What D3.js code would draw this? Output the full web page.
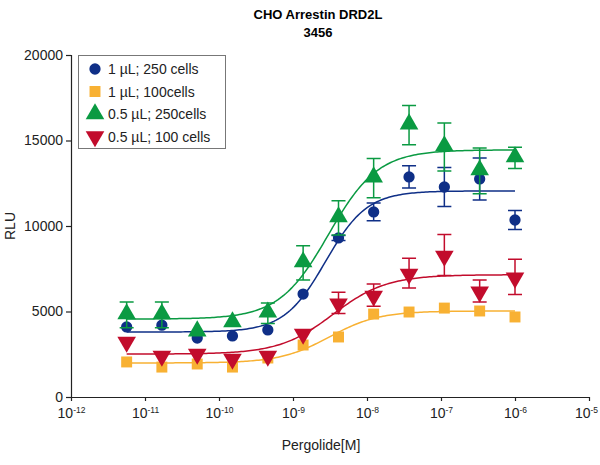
<!DOCTYPE html>
<html><head><meta charset="utf-8">
<script src="https://cdn.jsdelivr.net/npm/d3@7"></script>
<style>body{margin:0;background:#fff}svg{display:block}text{font-family:"Liberation Sans",Arial,sans-serif}</style>
</head><body>
<svg id="c" width="600" height="465"></svg>
<script>
const concentrations = [5.65e-12, 1.69e-11, 5.08e-11, 1.52e-10, 4.57e-10, 1.37e-9, 4.12e-9, 1.23e-8, 3.7e-8, 1.11e-7, 3.33e-7, 1e-6];
const seriesNames = ["1 µL; 250 cells", "1 µL; 100cells", "0.5 µL; 250cells", "0.5 µL; 100 cells"];
const blueValues   = [4100, 4200, 3450, 3570, 3920, 6020, 9300, 10820, 12870, 12280, 12750, 10350];
const blueErrors   = [0, 0, 0, 0, 0, 0, 150, 520, 650, 1140, 1230, 550];
const orangeValues = [2050, 1750, 1930, 1750, 2280, 3040, 3510, 4850, 4970, 5200, 5030, 4680];
const orangeErrors = [0, 0, 0, 0, 0, 0, 0, 0, 0, 0, 0, 0];
const greenValues  = [4800, 4800, 3800, 4330, 4900, 7840, 10470, 12800, 15900, 14620, 13220, 13980];
const greenErrors  = [750, 750, 0, 0, 600, 1000, 1000, 1150, 1150, 1400, 1340, 620];
const redValues    = [3270, 2450, 2570, 2280, 2450, 3740, 5500, 5960, 7250, 8300, 6200, 7020];
const redErrors    = [0, 0, 0, 0, 0, 0, 620, 650, 870, 1200, 640, 1030];
// 4-parameter logistic fit parameters (blue, orange, green, red)
const fitBottom   = [3800, 1990, 4560, 2510];
const fitTop      = [12050, 5030, 14450, 7150];
const fitLogEC50  = [-8.56, -8.51, -8.52, -8.46];
const fitHill     = [1.55, 1.3, 1.3, 1.2];
const yTicks = [0, 5000, 10000, 15000, 20000];
const xTickExponents = [-12, -11, -10, -9, -8, -7, -6, -5];

const colors = ["#0f2f87", "#f8b133", "#0a9a42", "#c20c2c"];
const symbols = [d3.symbolCircle, d3.symbolSquare, d3.symbolTriangle, d3.symbolTriangle];
const symSizes = [100, 120, 150, 150];
const rotations = [0, 0, 0, 180];
const valuesList = [blueValues, orangeValues, greenValues, redValues];
const errorsList = [blueErrors, orangeErrors, greenErrors, redErrors];
const FONT = '"Liberation Sans",Arial,sans-serif';

const svg = d3.select("#c");
const x = d3.scaleLog().domain([1e-12, 1e-5]).range([71, 589]);
const y = d3.scaleLinear().domain([0, 20000]).range([397, 55]);

// title
svg.append("text").attr("x", 318).attr("y", 19).attr("text-anchor", "middle")
  .attr("font-size", 13).attr("font-weight", "bold").text("CHO Arrestin DRD2L");
svg.append("text").attr("x", 318).attr("y", 37).attr("text-anchor", "middle")
  .attr("font-size", 13).attr("font-weight", "bold").text("3456");

// y axis
const yAxis = svg.append("g").attr("transform", "translate(71,0)")
  .call(d3.axisLeft(y).tickValues(yTicks).tickSize(5).tickPadding(3).tickFormat(d3.format("d")));
yAxis.selectAll("text").attr("font-size", 14).attr("fill", "#222").style("font-family", FONT);
yAxis.selectAll("line,path").attr("stroke", "#222").attr("stroke-width", 1.2);

// x axis
const xAxis = svg.append("g").attr("transform", "translate(0,397)")
  .call(d3.axisBottom(x).tickValues(xTickExponents.map(e => Math.pow(10, e))).tickSize(4).tickFormat(""));
xAxis.select("path").attr("d", "M66,0.5H589.5");
xAxis.selectAll("line,path").attr("stroke", "#222").attr("stroke-width", 1.2);
xAxis.selectAll(".tick").each(function(d, i) {
  const last = i === xTickExponents.length - 1;
  const t = d3.select(this).append("text").attr("y", 21).attr("x", last ? -3 : 0).attr("text-anchor", "middle")
    .attr("fill", "#222").attr("font-size", 14).style("font-family", FONT);
  t.append("tspan").text("10");
  t.append("tspan").attr("dy", -5).attr("font-size", 8.5).text(String(xTickExponents[i]));
});

svg.append("text").attr("transform", "translate(15,226) rotate(-90)").attr("text-anchor", "middle")
  .attr("font-size", 14).attr("fill", "#222").text("RLU");
svg.append("text").attr("x", 321).attr("y", 450).attr("text-anchor", "middle")
  .attr("font-size", 14).attr("fill", "#222").text("Pergolide[M]");

// fit curves
const logMin = Math.log10(concentrations[0]), logMax = Math.log10(concentrations[concentrations.length - 1]);
const line = d3.line().x(d => x(d[0])).y(d => y(d[1]));
const drawOrder = [1, 0, 3, 2];
drawOrder.forEach(s => {
  const pts = d3.range(0, 201).map(k => {
    const lx = logMin + (logMax - logMin) * k / 200;
    const v = fitBottom[s] + (fitTop[s] - fitBottom[s]) / (1 + Math.pow(10, (fitLogEC50[s] - lx) * fitHill[s]));
    return [Math.pow(10, lx), v];
  });
  svg.append("path").attr("d", line(pts)).attr("fill", "none").attr("stroke", colors[s]).attr("stroke-width", 1.5);
});

// error bars + markers
drawOrder.forEach(s => {
  const g = svg.append("g");
  concentrations.forEach((c, i) => {
    const e = errorsList[s][i];
    if (e > 0) {
      const cx = x(c), v = valuesList[s][i];
      const path = `M${cx},${y(v - e)}V${y(v + e)}M${cx - 7},${y(v + e)}H${cx + 7}M${cx - 7},${y(v - e)}H${cx + 7}`;
      g.append("path").attr("d", path).attr("stroke", colors[s]).attr("stroke-width", 1.5).attr("fill", "none");
    }
  });
  concentrations.forEach((c, i) => {
    const v = valuesList[s][i];
    const dy = s === 2 ? -1 : (s === 3 ? 1 : 0);
    g.append("path").attr("d", d3.symbol().type(symbols[s]).size(symSizes[s])())
      .attr("transform", `translate(${x(c)},${y(v) + dy}) rotate(${rotations[s]})`)
      .attr("fill", colors[s]);
  });
});

// legend
const leg = svg.append("g");
leg.append("rect").attr("x", 78.5).attr("y", 55.5).attr("width", 147).attr("height", 93)
  .attr("fill", "#fff").attr("stroke", "#777").attr("stroke-width", 1);
[0, 1, 2, 3].forEach((s, i) => {
  const cy = 69 + i * 22.5;
  leg.append("path").attr("d", d3.symbol().type(symbols[s]).size(symSizes[s])())
    .attr("transform", `translate(95,${cy}) rotate(${rotations[s]})`).attr("fill", colors[s]);
  leg.append("text").attr("x", 108).attr("y", cy + 5).attr("font-size", 14).attr("fill", "#222").text(seriesNames[s]);
});
</script>
</body></html>
